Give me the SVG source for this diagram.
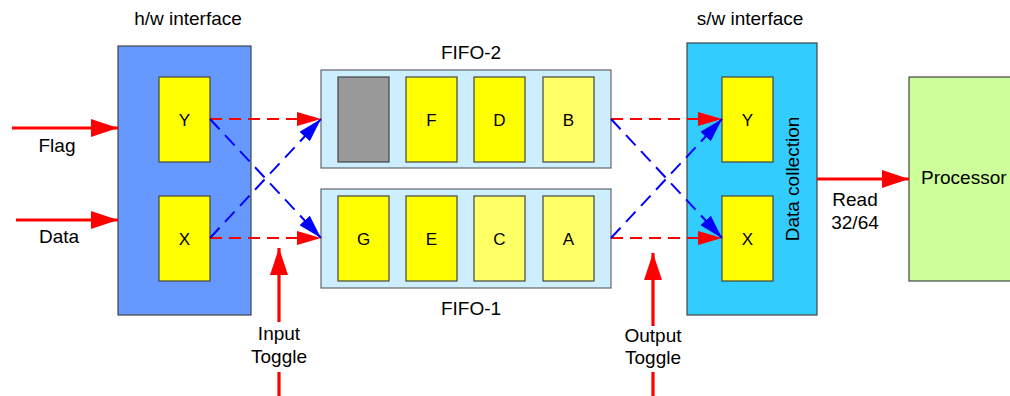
<svg xmlns="http://www.w3.org/2000/svg" width="1010" height="396" viewBox="0 0 1010 396">
<style>
text{font-family:"Liberation Sans",Arial,sans-serif;font-size:19px;fill:#000;text-anchor:middle}
.cell{font-size:17px}
.box{stroke:#444;stroke-width:1.2}
.hw{fill:#6699ff}
.sw{fill:#33ccff}
.fifo{fill:#cceeff;stroke:#666}
.y1{fill:#ffff00}
.y2{fill:#ffff66}
.gray{fill:#999999}
.proc{fill:#ccff99}
.rd{stroke:#ff0000;stroke-width:1.8;stroke-dasharray:12 7;fill:none}
.bd{stroke:#0000ff;stroke-width:2;stroke-dasharray:14 8;fill:none}
.rs{stroke:#ff0000;stroke-width:3.2;fill:none}
</style>
<defs>
<marker id="ar" markerUnits="userSpaceOnUse" markerWidth="24" markerHeight="14" refX="24" refY="7" orient="auto"><path d="M0,0 L24,7 L0,14 z" fill="#ff0000"/></marker>
<marker id="ab" markerUnits="userSpaceOnUse" markerWidth="24" markerHeight="14" refX="24" refY="7" orient="auto"><path d="M0,0 L24,7 L0,14 z" fill="#0000ff"/></marker>
<marker id="aR" markerUnits="userSpaceOnUse" markerWidth="27" markerHeight="18" refX="27" refY="9" orient="auto"><path d="M0,0 L27,9 L0,18 z" fill="#ff0000"/></marker>
</defs>
<g id="hw-interface">
<text x="188" y="25">h/w interface</text>
<rect class="box hw" x="118" y="46" width="133" height="269"/>
<g id="hw-Y"><rect class="box y1" x="159" y="77" width="51" height="85"/><text class="cell" x="184.5" y="125.5">Y</text></g>
<g id="hw-X"><rect class="box y1" x="159" y="196" width="51" height="85"/><text class="cell" x="184.5" y="244.5">X</text></g>
</g>
<g id="fifo-2">
<text x="471" y="59">FIFO-2</text>
<rect class="box fifo" x="321" y="70" width="290" height="98"/>
<rect class="box gray" x="338" y="77" width="51" height="85"/>
<rect class="box y1" x="406" y="77" width="51" height="85"/><text class="cell" x="431.5" y="125.5">F</text>
<rect class="box y1" x="474" y="77" width="51" height="85"/><text class="cell" x="499.5" y="125.5">D</text>
<rect class="box y2" x="543" y="77" width="51" height="85"/><text class="cell" x="568.5" y="125.5">B</text>
</g>
<g id="fifo-1">
<rect class="box fifo" x="321" y="189" width="290" height="99"/>
<rect class="box y1" x="338" y="196" width="51" height="85"/><text class="cell" x="363.5" y="244.5">G</text>
<rect class="box y1" x="406" y="196" width="51" height="85"/><text class="cell" x="431.5" y="244.5">E</text>
<rect class="box y2" x="474" y="196" width="51" height="85"/><text class="cell" x="499.5" y="244.5">C</text>
<rect class="box y2" x="543" y="196" width="51" height="85"/><text class="cell" x="568.5" y="244.5">A</text>
<text x="471" y="315">FIFO-1</text>
</g>
<g id="sw-interface">
<text x="750" y="25">s/w interface</text>
<rect class="box sw" x="687" y="43" width="130" height="272"/>
<g id="sw-Y"><rect class="box y1" x="722" y="77" width="51" height="85"/><text class="cell" x="747.5" y="125.5">Y</text></g>
<g id="sw-X"><rect class="box y1" x="722" y="196" width="51" height="85"/><text class="cell" x="747.5" y="244.5">X</text></g>
<text transform="translate(799,179) rotate(-90)" x="0" y="0">Data collection</text>
</g>
<g id="processor">
<rect class="box proc" x="909" y="77" width="110" height="204"/>
<text x="921" y="184" style="text-anchor:start">Processor</text>
</g>
<g id="connectors">
<path class="rd" d="M210,119 L321,119" marker-end="url(#ar)"/>
<path class="rd" d="M210,238 L321,238" marker-end="url(#ar)"/>
<path class="bd" d="M210,119 L321,238" marker-end="url(#ab)"/>
<path class="bd" d="M210,238 L321,119" marker-end="url(#ab)"/>
<path class="rd" d="M611,119 L722,119" marker-end="url(#ar)"/>
<path class="rd" d="M611,238 L722,238" marker-end="url(#ar)"/>
<path class="bd" d="M611,119 L722,238" marker-end="url(#ab)"/>
<path class="bd" d="M611,238 L722,119" marker-end="url(#ab)"/>
<path class="rs" d="M12,128 L118,128" marker-end="url(#aR)"/>
<path class="rs" d="M16,220 L118,220" marker-end="url(#aR)"/>
<path class="rs" d="M279,322 L279,248" marker-end="url(#aR)"/>
<path class="rs" d="M279,372 L279,396"/>
<path class="rs" d="M653,326 L653,253" marker-end="url(#aR)"/>
<path class="rs" d="M653,372 L653,396"/>
<path class="rs" d="M817,179 L909,179" marker-end="url(#aR)"/>
</g>
<g id="labels">
<text x="57" y="152">Flag</text>
<text x="59" y="243">Data</text>
<text x="279" y="340">Input</text>
<text x="279" y="363">Toggle</text>
<text x="653" y="342">Output</text>
<text x="653" y="364">Toggle</text>
<text x="855" y="206">Read</text>
<text x="855" y="229">32/64</text>
</g>
</svg>
